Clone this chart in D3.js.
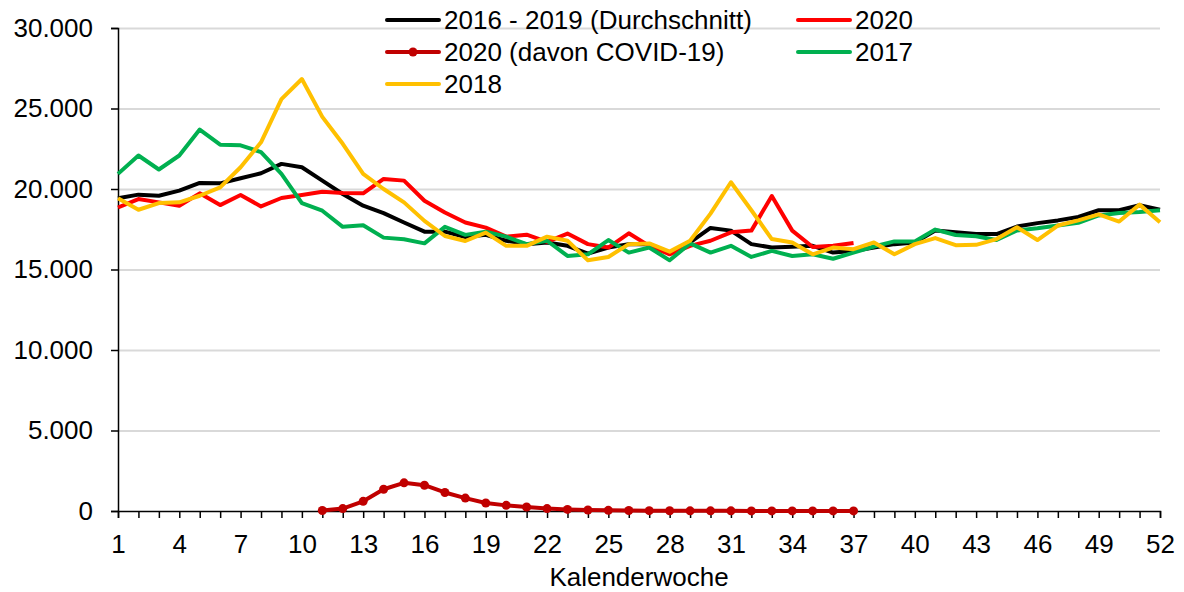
<!DOCTYPE html>
<html>
<head>
<meta charset="utf-8">
<script src="https://cdn.jsdelivr.net/npm/d3@7"></script>
<style>
  body { margin: 0; background: #fff; }
  svg { font-family: "Liberation Sans", Arial, sans-serif; }
  .tick text { font-size: 26px; fill: #000; }
  .grid line { stroke: #d9d9d9; stroke-width: 2; }
  .grid .domain { display: none; }
</style>
</head>
<body>
<svg id="chart" width="1184" height="592"></svg>
<script>
// weekly deaths, Kalenderwoche 1..52
const weeks = d3.range(1, 53);
const avg16_19 = [19420, 19650, 19580, 19900, 20375, 20350, 20670, 20980, 21560, 21350,
    20520, 19690, 18960, 18500, 17920, 17350, 17350, 17020, 17150, 16785,
    16575, 16680, 16470, 15990, 16365, 16575, 16575, 16050, 16680, 17580,
    17415, 16575, 16365, 16410, 16470, 16050, 16155, 16365, 16575, 16680,
    17420, 17310, 17200, 17200, 17670, 17880, 18050, 18260, 18680, 18680,
    18990, 18720];
const y2020 = [18850, 19375, 19170, 18960, 19730, 19000, 19625, 18920, 19440, 19625,
    19830, 19750, 19730, 20625, 20520, 19270, 18540, 17920, 17600, 17040,
    17160, 16720, 17230, 16575, 16365, 17250, 16470, 15945, 16470, 16785,
    17310, 17415, 19560, 17415, 16400, 16470, 16640];
const covidWeeks = d3.range(11, 38);
const covid2020 = [30, 150, 600, 1350, 1750, 1600, 1150, 800, 500, 350,
    250, 150, 100, 60, 40, 30, 20, 15, 10, 10,
    10, 5, 5, 5, 5, 5, 5];
const y2017 = [20940, 22080, 21210, 22080, 23690, 22750, 22710, 22290, 20940, 19125,
    18650, 17650, 17750, 16980, 16875, 16625, 17650, 17150, 17350, 17040,
    16575, 16785, 15840, 15945, 16830, 16050, 16365, 15570, 16620, 16050,
    16470, 15780, 16155, 15840, 15945, 15670, 16050, 16430, 16745, 16745,
    17480, 17140, 17060, 16830, 17420, 17560, 17730, 17900, 18360, 18510,
    18570, 18680];
const y2018 = [19420, 18710, 19125, 19170, 19580, 20100, 21350, 22900, 25580, 26830,
    24480, 22810, 20940, 20000, 19170, 18020, 17080, 16770, 17290, 16470,
    16470, 17040, 16785, 15570, 15780, 16575, 16620, 16110, 16785, 18470,
    20420, 18680, 16890, 16680, 15945, 16365, 16260, 16680, 15945, 16575,
    16950, 16510, 16530, 16890, 17625, 16830, 17730, 18050, 18420, 17980,
    19030, 17940];
const xTicks = d3.range(1, 53, 3);
const yTicks = [0, 5000, 10000, 15000, 20000, 25000, 30000];

const series = [
    {name: '2016 - 2019 (Durchschnitt)', color: '#000000', x: weeks, y: avg16_19},
    {name: '2020', color: '#ff0000', x: weeks.slice(0, y2020.length), y: y2020},
    {name: '2020 (davon COVID-19)', color: '#c00000', x: covidWeeks, y: covid2020, marker: true},
    {name: '2017', color: '#00b050', x: weeks, y: y2017},
    {name: '2018', color: '#ffc000', x: weeks, y: y2018}
];

const svg = d3.select('#chart');
const mLeft = 118, mRight = 1160, mTop = 28, mBottom = 511;

const de = d3.formatLocale({decimal: ',', thousands: '.', grouping: [3], currency: ['', ' €']});
const fmt = de.format(',.0f');

const xScale = d3.scaleLinear().domain([1, 52]).range([mLeft, mRight]);
const yScale = d3.scaleLinear().domain([0, 30000]).range([mBottom, mTop]);

// horizontal grid lines
svg.append('g')
    .attr('class', 'grid')
    .attr('transform', `translate(${mLeft},0)`)
    .call(d3.axisLeft(yScale).tickValues(yTicks.slice(1)).tickSize(-(mRight - mLeft)).tickFormat(''));

// y axis
const yAxis = svg.append('g')
    .attr('transform', `translate(${mLeft},0)`)
    .call(d3.axisLeft(yScale).tickValues(yTicks).tickSize(7).tickPadding(18).tickFormat(fmt));
yAxis.select('.domain').attr('stroke', '#000').attr('stroke-width', 1.5);
yAxis.selectAll('.tick line').attr('stroke', '#000').attr('stroke-width', 1.5);

// x axis: tick every week, label every third
const xAxis = svg.append('g')
    .attr('transform', `translate(0,${mBottom})`)
    .call(d3.axisBottom(xScale).tickValues(weeks).tickSize(7).tickPadding(17)
        .tickFormat(d => xTicks.includes(d) ? d : ''));
xAxis.select('.domain').attr('stroke', '#000').attr('stroke-width', 1.5);
xAxis.selectAll('.tick line').attr('stroke', '#000').attr('stroke-width', 1.5);

svg.append('text')
    .attr('x', (mLeft + mRight) / 2)
    .attr('y', 586)
    .attr('text-anchor', 'middle')
    .attr('font-size', 26)
    .text('Kalenderwoche');

const line = d3.line()
    .x(d => xScale(d[0]))
    .y(d => yScale(d[1]));

series.forEach(s => {
    const pts = s.x.map((w, i) => [w, s.y[i]]);
    svg.append('path')
        .datum(pts)
        .attr('fill', 'none')
        .attr('stroke', s.color)
        .attr('stroke-width', 4)
        .attr('stroke-linejoin', 'round')
        .attr('d', line);
    if (s.marker) {
        svg.append('g').selectAll('circle')
            .data(pts)
            .enter()
            .append('circle')
            .attr('cx', d => xScale(d[0]))
            .attr('cy', d => yScale(d[1]))
            .attr('r', 4.5)
            .attr('fill', s.color);
    }
});

// legend
const legendPos = [
    {x: 387, y: 20}, {x: 798, y: 20},
    {x: 387, y: 52}, {x: 798, y: 52},
    {x: 387, y: 84}
];
series.forEach((s, k) => {
    const p = legendPos[k];
    const g = svg.append('g').attr('transform', `translate(${p.x},${p.y})`);
    g.append('line').attr('x1', 0).attr('x2', 52).attr('stroke', s.color)
        .attr('stroke-width', 4).attr('stroke-linecap', 'round');
    if (s.marker) g.append('circle').attr('cx', 26).attr('r', 4.5).attr('fill', s.color);
    g.append('text').attr('x', 57).attr('y', 9).attr('font-size', 26).text(s.name);
});
</script>
</body>
</html>
